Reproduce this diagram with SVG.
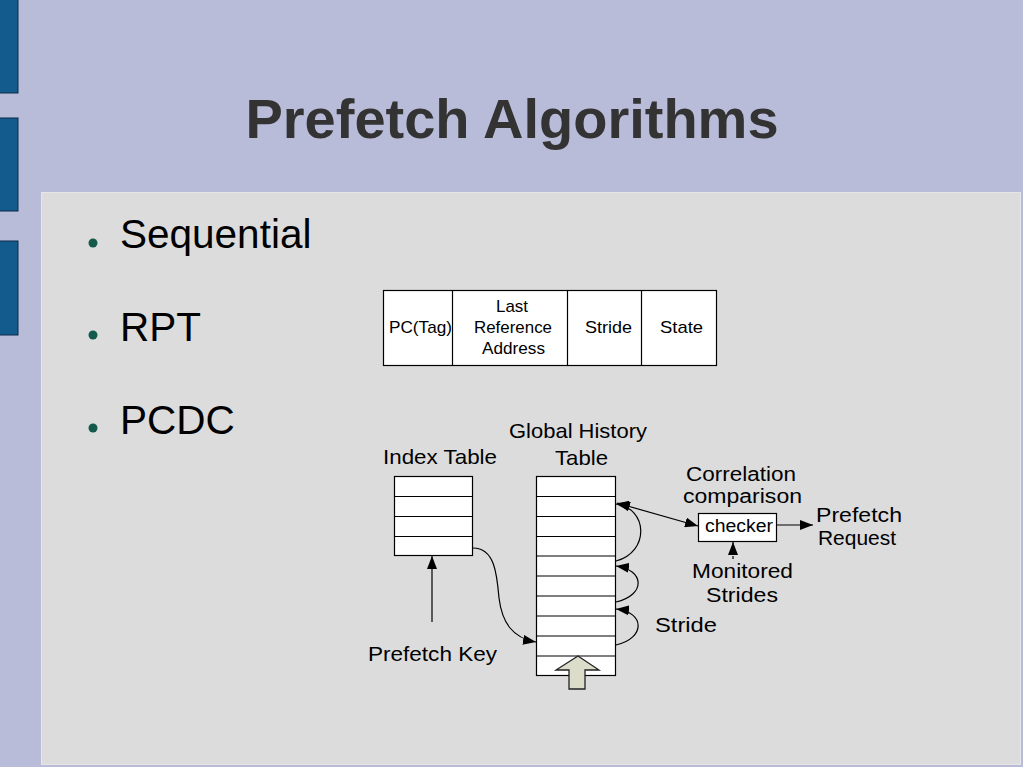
<svg xmlns="http://www.w3.org/2000/svg" width="1023" height="767" viewBox="0 0 1023 767">
<defs>
<marker id="ah" markerUnits="userSpaceOnUse" markerWidth="14" markerHeight="10" refX="13" refY="5" orient="auto-start-reverse">
<path d="M0,0 L13,5 L0,10 Z" fill="#000"/>
</marker>
<style>
.bar{fill:#125b8c;stroke:#0a2a44;stroke-width:1}
.cell{fill:#fff;stroke:#000;stroke-width:1.2}
.ln{fill:none;stroke:#000;stroke-width:1.2}
.t{font-family:"Liberation Sans",Arial,sans-serif;fill:#000}
.d{font-family:"Liberation Sans",Arial,sans-serif;fill:#000;text-anchor:start}
</style>
</defs>
<rect x="0" y="0" width="1023" height="767" fill="#b9bcd9"/>
<rect class="bar" x="-1" y="-1" width="19" height="94"/>
<rect class="bar" x="-1" y="118" width="19" height="93"/>
<rect class="bar" x="-1" y="241" width="19" height="94"/>
<rect x="41.5" y="192.5" width="979" height="572" fill="#dcdcdc" stroke="#e6e6e6" stroke-width="1"/>
<text x="512" y="138" font-family="'Liberation Sans',Arial,sans-serif" font-size="56" font-weight="bold" fill="#333" text-anchor="middle">Prefetch Algorithms</text>
<g id="bullets">
<circle cx="93" cy="243" r="4.5" fill="#145a4c"/>
<circle cx="93" cy="335" r="4.5" fill="#145a4c"/>
<circle cx="93" cy="428" r="4.5" fill="#145a4c"/>
<text class="t" x="120" y="248" font-size="40.5">Sequential</text>
<text class="t" x="120" y="341" font-size="40.5">RPT</text>
<text class="t" x="120" y="434" font-size="40.5">PCDC</text>
</g>
<g id="rpt">
<rect class="cell" x="383.5" y="290.5" width="333" height="75"/>
<line class="ln" x1="452.5" y1="290.5" x2="452.5" y2="365.5"/>
<line class="ln" x1="567.5" y1="290.5" x2="567.5" y2="365.5"/>
<line class="ln" x1="641.5" y1="290.5" x2="641.5" y2="365.5"/>
<text class="d" x="389" y="333" font-size="17" textLength="63" lengthAdjust="spacingAndGlyphs">PC(Tag)</text>
<text class="d" x="496" y="312" font-size="17" textLength="32" lengthAdjust="spacingAndGlyphs">Last</text>
<text class="d" x="474" y="333" font-size="17" textLength="78" lengthAdjust="spacingAndGlyphs">Reference</text>
<text class="d" x="482" y="354" font-size="17" textLength="63" lengthAdjust="spacingAndGlyphs">Address</text>
<text class="d" x="585" y="333" font-size="17" textLength="47" lengthAdjust="spacingAndGlyphs">Stride</text>
<text class="d" x="660" y="333" font-size="17" textLength="43" lengthAdjust="spacingAndGlyphs">State</text>
</g>
<g id="index-table">
<rect class="cell" x="394.5" y="476.5" width="78" height="79"/>
<line class="ln" x1="394.5" y1="496.5" x2="472.5" y2="496.5"/>
<line class="ln" x1="394.5" y1="516.5" x2="472.5" y2="516.5"/>
<line class="ln" x1="394.5" y1="536.5" x2="472.5" y2="536.5"/>
<text class="d" x="383" y="464" font-size="21" textLength="114" lengthAdjust="spacingAndGlyphs">Index Table</text>
</g>
<g id="ght">
<rect class="cell" x="536.5" y="476.5" width="79" height="199"/>
<line class="ln" x1="536.5" y1="496.5" x2="615.5" y2="496.5"/>
<line class="ln" x1="536.5" y1="516.5" x2="615.5" y2="516.5"/>
<line class="ln" x1="536.5" y1="536.5" x2="615.5" y2="536.5"/>
<line class="ln" x1="536.5" y1="556" x2="615.5" y2="556"/>
<line class="ln" x1="536.5" y1="576" x2="615.5" y2="576"/>
<line class="ln" x1="536.5" y1="596" x2="615.5" y2="596"/>
<line class="ln" x1="536.5" y1="616" x2="615.5" y2="616"/>
<line class="ln" x1="536.5" y1="636" x2="615.5" y2="636"/>
<line class="ln" x1="536.5" y1="656" x2="615.5" y2="656"/>
<text class="d" x="509" y="438" font-size="21" textLength="138" lengthAdjust="spacingAndGlyphs">Global History</text>
<text class="d" x="555" y="465" font-size="21" textLength="53" lengthAdjust="spacingAndGlyphs">Table</text>
<polygon points="578,656 599,670 585,670 585,689 569,689 569,670 556,670" fill="#dcdccb" stroke="#222" stroke-width="1.3"/>
</g>
<g id="checker">
<rect class="cell" x="698.5" y="513.5" width="78" height="28"/>
<text class="d" x="705" y="532" font-size="18" textLength="68" lengthAdjust="spacingAndGlyphs">checker</text>
<text class="d" x="686" y="481" font-size="20" textLength="110" lengthAdjust="spacingAndGlyphs">Correlation</text>
<text class="d" x="683" y="503" font-size="20" textLength="119" lengthAdjust="spacingAndGlyphs">comparison</text>
</g>
<g id="labels">
<text class="d" x="816" y="522" font-size="21" textLength="86" lengthAdjust="spacingAndGlyphs">Prefetch</text>
<text class="d" x="818" y="545" font-size="21" textLength="78" lengthAdjust="spacingAndGlyphs">Request</text>
<text class="d" x="692" y="578" font-size="21" textLength="101" lengthAdjust="spacingAndGlyphs">Monitored</text>
<text class="d" x="706" y="602" font-size="21" textLength="72" lengthAdjust="spacingAndGlyphs">Strides</text>
<text class="d" x="655" y="632" font-size="21" textLength="62" lengthAdjust="spacingAndGlyphs">Stride</text>
<text class="d" x="368" y="661" font-size="21" textLength="129" lengthAdjust="spacingAndGlyphs">Prefetch Key</text>
</g>
<g id="connectors">
<path class="ln" d="M432,622 L432,556" marker-end="url(#ah)"/>
<path class="ln" d="M473,548 C495,548 497,575 499,598 C502,622 512,638 536,642" marker-end="url(#ah)"/>
<path class="ln" d="M616,561 C650,552 648,508 616,504" marker-end="url(#ah)"/>
<path class="ln" d="M616,602 C646,595 645,570 616,566" marker-end="url(#ah)"/>
<path class="ln" d="M616,645 C646,638 645,612 616,609" marker-end="url(#ah)"/>
<path class="ln" d="M617,503 L698,526" marker-start="url(#ah)" marker-end="url(#ah)"/>
<path class="ln" d="M777,525 L813,525" marker-end="url(#ah)"/>
<path class="ln" d="M733,559 L733,542" stroke-dasharray="3,2" marker-end="url(#ah)"/>
</g>
</svg>
